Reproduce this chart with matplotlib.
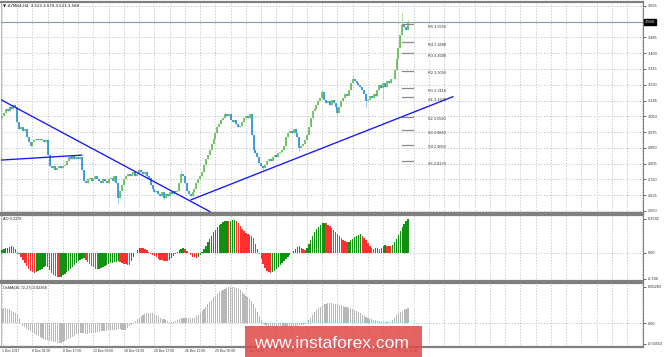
import matplotlib
matplotlib.use("Agg")
import matplotlib.pyplot as plt
from matplotlib.patches import Rectangle
from matplotlib.transforms import blended_transform_factory

W, H = 665, 357
plt.rcParams['font.family'] = ['Liberation Sans', 'DejaVu Sans']

# ---------------- data ----------------
header_text = "#YMH4,H4  3.523 3.579 3.523 3.568"
ao_header = "AO 0.2376"
osma_header = "OsMA(36,72,27) 0.02368"

first_open = 3.05
close = [
    3.06, 3.08, 3.10, 3.09, 3.11, 3.10, 3.12, 3.11, 3.03, 2.99,
    3.00, 2.98, 2.99, 2.95, 2.92, 2.90, 2.92, 2.93, 2.94, 2.93,
    2.94, 2.93, 2.92, 2.93, 2.85, 2.79, 2.78, 2.79, 2.77, 2.78,
    2.79, 2.78, 2.79, 2.80, 2.82, 2.84, 2.83, 2.85, 2.83, 2.84,
    2.83, 2.84, 2.77, 2.71, 2.70, 2.72, 2.73, 2.71, 2.72, 2.74,
    2.72, 2.71, 2.70, 2.72, 2.71, 2.70, 2.72, 2.73, 2.71, 2.74,
    2.70, 2.62, 2.66, 2.69, 2.72, 2.74, 2.75, 2.74, 2.75, 2.76,
    2.74, 2.75, 2.77, 2.76, 2.75, 2.76, 2.74, 2.73, 2.69, 2.67,
    2.65, 2.66, 2.64, 2.63, 2.65, 2.62, 2.64, 2.63, 2.65, 2.64,
    2.66, 2.65, 2.66, 2.70, 2.75, 2.74, 2.70, 2.66, 2.64, 2.63,
    2.65, 2.67, 2.70, 2.72, 2.74, 2.76, 2.80, 2.83, 2.85, 2.88,
    2.91, 2.94, 2.97, 3.00, 3.02, 3.04, 3.05, 3.07, 3.06, 3.07,
    3.04, 3.03, 3.04, 3.02, 3.00, 3.01, 3.03, 3.05, 3.06, 3.05,
    3.07, 2.96, 2.88, 2.86, 2.84, 2.81, 2.79, 2.78, 2.80, 2.82,
    2.83, 2.82, 2.84, 2.85, 2.84, 2.86, 2.87, 2.88, 2.90, 2.95,
    2.97, 2.98, 2.97, 2.99, 2.97, 2.95, 2.89, 2.90, 2.91, 2.93,
    2.96, 3.00, 3.05, 3.09, 3.10, 3.12, 3.14, 3.16, 3.19, 3.15,
    3.13, 3.14, 3.12, 3.15, 3.13, 3.11, 3.08, 3.11, 3.14, 3.16,
    3.18, 3.17, 3.20, 3.24, 3.26, 3.25, 3.24, 3.23, 3.22, 3.20,
    3.18, 3.14, 3.15, 3.17, 3.16, 3.18, 3.17, 3.20, 3.23, 3.21,
    3.24, 3.22, 3.25, 3.24, 3.26, 3.26, 3.31, 3.37, 3.43, 3.50,
    3.55, 3.54, 3.523, 3.568,
]
high_ext = {94: 2.77, 117: 3.085, 168: 3.20, 184: 3.285, 210: 3.62, 213: 3.579}
low_ext = {61: 2.588, 85: 2.61, 132: 2.87, 137: 2.77, 156: 2.875,
           176: 3.055, 191: 3.11, 200: 3.15, 212: 3.523}

ao = [
    0.020, 0.028, 0.034, 0.040, 0.046, 0.050,
    0.045, 0.030, 0.010,
    -0.010, -0.030, -0.055, -0.080, -0.100, -0.120, -0.135, -0.145, -0.150,
    -0.145, -0.140, -0.132, -0.120, -0.110, -0.100,
    -0.110, -0.130, -0.150, -0.165, -0.175, -0.182, -0.185,
    -0.180, -0.170, -0.160, -0.148, -0.135, -0.120, -0.105, -0.090, -0.075, -0.062, -0.052, -0.045, -0.040,
    -0.055, -0.070, -0.085, -0.100, -0.110, -0.120, -0.125,
    -0.120, -0.112, -0.105, -0.098, -0.090, -0.085, -0.080, -0.076, -0.072, -0.068, -0.065,
    -0.072, -0.078, -0.083, -0.087, -0.090, -0.092,
    -0.060, -0.030, 0.000, 0.025, 0.040,
    0.038, 0.035, 0.030, 0.020, 0.008, -0.005, -0.015, -0.025, -0.035, -0.045, -0.052, -0.058, -0.062, -0.064, -0.065,
    -0.055, -0.040, -0.025, -0.010, 0.005, 0.018, 0.028, 0.035,
    0.030, 0.015, 0.000, -0.015, -0.028, -0.035, -0.038,
    -0.030, -0.015, 0.005, 0.030, 0.055, 0.080, 0.105, 0.130, 0.155, 0.175, 0.195, 0.210, 0.222, 0.232, 0.240, 0.245,
    0.242, 0.246, 0.248, 0.249,
    0.240, 0.225, 0.205, 0.185, 0.165, 0.150, 0.142, 0.136, 0.130, 0.110, 0.070, 0.030, -0.010, -0.050, -0.085, -0.115, -0.135, -0.148, -0.152,
    -0.145, -0.135, -0.122, -0.108, -0.093, -0.078, -0.062, -0.046, -0.030, -0.015, 0.000, 0.015, 0.030, 0.042, 0.050,
    0.040, 0.030, 0.025,
    0.040, 0.065, 0.095, 0.125, 0.155, 0.180, 0.200, 0.215, 0.225, 0.230,
    0.225, 0.215, 0.205, 0.190, 0.175, 0.160, 0.145, 0.130, 0.115, 0.100, 0.090, 0.080,
    0.085, 0.095, 0.108, 0.120, 0.130, 0.137, 0.140,
    0.132, 0.115, 0.095, 0.075, 0.055, 0.040, 0.030,
    0.034, 0.036, 0.033, 0.040, 0.052, 0.058, 0.055, 0.052, 0.050,
    0.060, 0.080, 0.105, 0.135, 0.165, 0.195, 0.220, 0.240, 0.2582,
]

osma = [
    0.025, 0.026, 0.026, 0.025, 0.024, 0.022, 0.020, 0.018, 0.016,
    0.008, 0.001,
    -0.004, -0.007, -0.010, -0.012, -0.014, -0.016, -0.018, -0.020, -0.022, -0.024, -0.026,
    -0.027, -0.028, -0.029, -0.030, -0.031, -0.032, -0.033, -0.034, -0.034, -0.034, -0.033,
    -0.031, -0.029, -0.027, -0.025, -0.023, -0.021, -0.019, -0.018, -0.017,
    -0.017, -0.017, -0.018, -0.018, -0.017, -0.017, -0.016, -0.016, -0.015, -0.015, -0.014, -0.014,
    -0.013, -0.013, -0.012, -0.012, -0.012, -0.011,
    -0.011, -0.010, -0.010, -0.011, -0.012, -0.011, -0.008,
    -0.005, -0.002, 0.001,
    0.004, 0.007, 0.010, 0.012, 0.014, 0.016, 0.017, 0.018,
    0.018, 0.017, 0.016, 0.014, 0.012, 0.010, 0.008, 0.007, 0.005, 0.004, 0.003, 0.002, 0.002,
    0.004, 0.006, 0.008, 0.009, 0.010, 0.010, 0.009, 0.009, 0.009, 0.009, 0.010, 0.012, 0.015, 0.018,
    0.021, 0.025, 0.029, 0.033, 0.037, 0.041, 0.045, 0.048, 0.051, 0.054, 0.056, 0.058, 0.060,
    0.061, 0.062, 0.0625, 0.0625,
    0.062, 0.061, 0.059, 0.057, 0.054, 0.051, 0.048, 0.045, 0.042, 0.038, 0.033, 0.027, 0.020,
    0.012, 0.005, -0.001,
    -0.003, -0.004, -0.005, -0.005, -0.005, -0.005, -0.005, -0.005, -0.005, -0.005, -0.005, -0.005,
    -0.005, -0.005, -0.005, -0.005, -0.004, -0.004, -0.003, -0.003, -0.002, -0.001, 0.001,
    0.005, 0.010, 0.015, 0.019, 0.023, 0.026, 0.029, 0.031, 0.033, 0.034, 0.035, 0.035,
    0.035, 0.034, 0.034, 0.033, 0.032, 0.031,
    0.030, 0.029, 0.028, 0.027, 0.026, 0.025, 0.023, 0.021, 0.019, 0.017, 0.015, 0.013, 0.011, 0.009, 0.008,
    0.007, 0.006, 0.005, 0.004, 0.004, 0.003, 0.003, 0.002, 0.002, 0.002, 0.003, 0.006, 0.010,
    0.014, 0.017, 0.020, 0.022, 0.024, 0.025, 0.027,
]

pivot_names = ["R5", "R4", "R3", "R2", "R1", "S1", "S2", "S3", "S4", "S5"]
pivot_values = [3.5550, 3.4580, 3.4000, 3.3050, 3.2110, 3.1620, 3.0580, 2.9840, 2.9050, 2.8170]

price_ticks = [2.550, 2.635, 2.720, 2.805, 2.890, 2.975, 3.060, 3.145, 3.230,
               3.315, 3.400, 3.485, 3.570, 3.655]
price_tick_labels = ["2.550", "2.635", "2.720", "2.805", "2.890", "2.975", "3.060",
                     "3.145", "3.230", "3.315", "3.400", "3.485", "", "3.655"]
bid_price = 3.568

ao_ticks = [0.2582, 0.0, -0.196]
ao_tick_labels = ["0.2582", "0.00", "-0.196"]
osma_ticks = [0.06283, 0.0, -0.03553]
osma_tick_labels = ["0.06283", "0.00", "-0.03553"]

date_labels = ["1 Dec 2017", "6 Dec 01:00", "8 Dec 17:00", "13 Dec 09:00", "18 Dec 01:00",
               "20 Dec 17:00", "26 Dec 13:00", "29 Dec 05:00", "4 Jan 01:00", "8 Jan 17:00",
               "11 Jan 09:00", "16 Jan 05:00", "18 Jan 21:00", "23 Jan 13:00"]
date_bars = [0, 16, 32, 48, 64, 80, 96, 112, 128, 144, 160, 176, 192, 208]

# trendlines: (bar, price) endpoints
trend_lines = [
    ((-0.8, 3.151), (109.4, 2.545)),
    ((-0.8, 2.824), (42.2, 2.851)),
    ((98.9, 2.609), (236.9, 3.167)),
]

# ---------------- figure ----------------
fig = plt.figure(figsize=(W / 100, H / 100), dpi=100)
fig.patch.set_facecolor('white')

def px_axes(x0, y0, x1, y1):
    return fig.add_axes([x0 / W, 1 - y1 / H, (x1 - x0) / W, (y1 - y0) / H])

ax = px_axes(1, 2, 643, 213)
ax_ao = px_axes(1, 215, 643, 281)
ax_os = px_axes(1, 283, 643, 347)

XMIN, XMAX = -0.5, 336.3
grid_kw = dict(color='#b8c0c8', lw=0.6, ls=(0, (1.5, 2.0)), zorder=0)
FS = 2.8
FS_DATE = 2.45

for a in (ax, ax_ao, ax_os):
    a.set_xlim(XMIN, XMAX)
    a.set_facecolor('white')
    for s in ('top', 'bottom'):
        a.spines[s].set_color('#808080')
        a.spines[s].set_linewidth(1.6)
    a.spines['right'].set_color('#808080')
    a.spines['right'].set_linewidth(0.8)
    a.spines['left'].set_color('#a0a0a0')
    a.spines['left'].set_linewidth(0.5)
    a.set_xticks([])
    for b in range(0, 337, 8):
        a.axvline(b, **grid_kw)
    a.yaxis.tick_right()
    a.tick_params(axis='y', which='both', length=2, width=0.5, pad=1.5,
                  labelsize=FS, colors='#303030')

# ---- main pane ----
ax.set_ylim(2.539, 3.676)
for p in price_ticks:
    ax.axhline(p, **grid_kw)
ax.set_yticks(price_ticks)
ax.set_yticklabels(price_tick_labels)

opens = [first_open] + close[:-1]
bull_c, bear_c = '#5dbb4a', '#1f8ad8'
bull_w, bear_w = '#a8dc98', '#8cc8ee'
for i, (o, c) in enumerate(zip(opens, close)):
    hi = max(o, c, high_ext.get(i, max(o, c)))
    lo = min(o, c, low_ext.get(i, min(o, c)))
    up = c >= o
    ax.vlines(i, lo, hi, color=bull_w if up else bear_w, lw=0.6, zorder=3)
    ax.vlines(i, min(o, c), max(o, c), color=bull_c if up else bear_c, lw=1.15, zorder=3)

# bid line
ax.axhline(bid_price, color='#8898a8', lw=0.8, zorder=2)
ax.text(1.003, bid_price, "3.568", transform=blended_transform_factory(ax.transAxes, ax.transData),
        color='white', fontsize=FS, va='center', ha='left', zorder=10, clip_on=False,
        bbox=dict(boxstyle='square,pad=0.35', fc='black', ec='black'))

# trendlines
for (x0, y0), (x1, y1) in trend_lines:
    ax.plot([x0, x1], [y0, y1], color='#1414ff', lw=0.95, zorder=4, solid_capstyle='butt')

# pivot levels
piv_x0, piv_x1, piv_lab = 210.0, 215.5, 223.3
for name, v in zip(pivot_names, pivot_values):
    ax.plot([piv_x0, piv_x1], [v, v], color='#8a8a8a', lw=0.9, zorder=3)
    ax.text(piv_lab, v - 0.002, f"{name} {v:.4f}", fontsize=FS, color='#303030',
            va='top', ha='left', zorder=5)

# ---- AO pane ----
ax_ao.set_ylim(-0.214, 0.288)
ax_ao.axhline(0, **grid_kw)
ao_cols = ['#119111' if (i == 0 or v > ao[i - 1]) else '#ff3030' for i, v in enumerate(ao)]
ax_ao.bar(range(len(ao)), ao, width=0.72, color=ao_cols, linewidth=0, zorder=3)
ax_ao.set_yticks(ao_ticks)
ax_ao.set_yticklabels(ao_tick_labels)

# ---- OsMA pane ----
ax_os.set_ylim(-0.0408, 0.0696)
ax_os.axhline(0, **grid_kw)
ax_os.bar(range(len(osma)), osma, width=0.6, color='#b8b8b8', linewidth=0, zorder=3)
ax_os.set_yticks(osma_ticks)
ax_os.set_yticklabels(osma_tick_labels)

# ---- headers ----
fig.text(3 / W, 1 - 5.5 / H, "\u25bc " + header_text, fontsize=FS, color='#202020',
         va='center', ha='left', family=['DejaVu Sans'])
fig.text(3 / W, 1 - 219.5 / H, ao_header, fontsize=FS, color='#202020', va='center', ha='left')
fig.text(3 / W, 1 - 287.5 / H, osma_header, fontsize=FS, color='#202020', va='center', ha='left')

# ---- date labels ----
tr = blended_transform_factory(ax_os.transData, fig.transFigure)
for b, lab in zip(date_bars, date_labels):
    ax_os.text(b, 1 - 351 / H, lab, transform=tr, fontsize=FS_DATE, color='#303030',
               va='center', ha='left', clip_on=False)

# ---- watermark ----
fig.add_artist(Rectangle((245 / W, 0), 177 / W, 31 / H, transform=fig.transFigure,
                         facecolor='#e04848', edgecolor='none', alpha=0.85, zorder=20))
fig.text(331 / W, 1 - 348 / H, "www.instaforex.com", fontsize=12.5, color='white',
         ha='center', va='baseline', zorder=21)

fig.savefig("out.png", dpi=100, facecolor='white')
